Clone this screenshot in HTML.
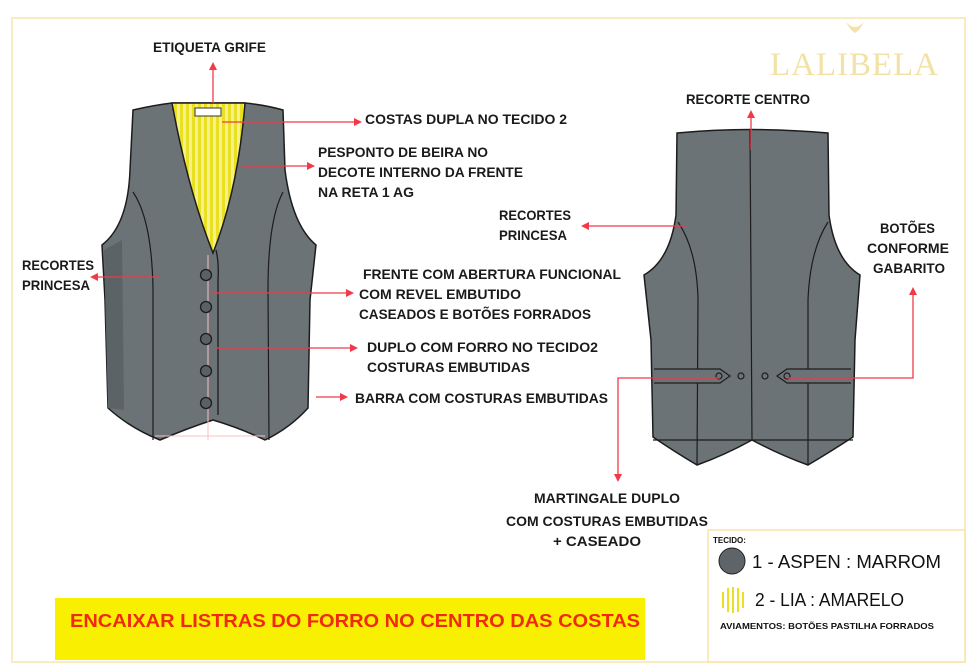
<!DOCTYPE html>
<html><head><meta charset="utf-8"><style>
html,body{margin:0;padding:0;background:#fff;}
svg{display:block;}
.t{font-family:"Liberation Sans",sans-serif;font-size:14px;font-weight:bold;fill:#1a1a1a;}
</style></head><body>
<svg width="977" height="672" viewBox="0 0 977 672" xmlns="http://www.w3.org/2000/svg">
<defs>
<marker id="a" markerWidth="8" markerHeight="8" refX="6" refY="4" orient="auto" markerUnits="userSpaceOnUse"><path d="M0,0 L8,4 L0,8 Z" fill="#f03a4a"/></marker>
<pattern id="st" width="6" height="10" patternUnits="userSpaceOnUse"><rect width="6" height="10" fill="#f6f08a"/><rect width="3" height="10" fill="#e8e020"/></pattern>
</defs>
<rect x="12" y="18" width="953" height="644" fill="none" stroke="#f8ecc0" stroke-width="2"/>
<path d="M846,22 Q855,32 864,22 Q860,30 855,33 Q850,30 846,22Z" fill="#f4e2a8"/>
<text x="770" y="75" font-family="Liberation Serif,serif" font-size="33" fill="#f2e2a6" textLength="168">LALIBELA</text>

<!-- FRONT VEST -->
<path d="M133,110 Q155,105 172,103 L245,103 Q265,105 283,110 L285,170 Q292,225 316,245 L310,300 L308,408 Q290,428 265,440 Q240,428 213,420 Q188,428 160,440 Q130,428 108,408 L105,300 L102,245 Q128,225 130,170 Z" fill="#6c7377" stroke="#1c1c1c" stroke-width="1.5"/>
<path d="M104,250 L122,240 L124,410 L108,408 Z" fill="#5c6367"/>
<path d="M172,103 L245,103 Q238,190 213,253 Q188,190 172,103Z" fill="url(#st)" stroke="#1c1c1c" stroke-width="1.5"/>
<rect x="195" y="108" width="26" height="8" fill="#fff" stroke="#333"/>
<path d="M133,192 Q152,220 153,290 L153,440" fill="none" stroke="#1c1c1c" stroke-width="1.2"/>
<path d="M283,192 Q268,220 268,290 L269,440" fill="none" stroke="#1c1c1c" stroke-width="1.2"/>
<path d="M216,250 Q219,262 218,280 L218,415" fill="none" stroke="#1c1c1c" stroke-width="1.3"/>
<line x1="208" y1="255" x2="208" y2="440" stroke="#f4c0c0" stroke-width="1"/>
<line x1="155" y1="436" x2="265" y2="436" stroke="#f4c0c0" stroke-width="1"/>
<g fill="#5a6064" stroke="#1c1c1c" stroke-width="1.3">
<circle cx="206" cy="275" r="5.5"/><circle cx="206" cy="307" r="5.5"/><circle cx="206" cy="339" r="5.5"/><circle cx="206" cy="371" r="5.5"/><circle cx="206" cy="403" r="5.5"/>
</g>

<!-- BACK VEST -->
<path d="M677,133 Q750,126 828,133 L829,215 Q835,260 860,275 L855,340 L853,437 Q830,452 808,465 Q780,455 752,440 Q725,455 697,465 Q675,452 653,437 L651,340 L644,275 Q670,260 676,215 Z" fill="#6c7377" stroke="#1c1c1c" stroke-width="1.5"/>
<line x1="750" y1="130" x2="752" y2="440" stroke="#1c1c1c" stroke-width="1.2"/>
<path d="M678,222 Q697,250 698,300 L697,465" fill="none" stroke="#1c1c1c" stroke-width="1.2"/>
<path d="M828,222 Q810,250 808,300 L808,465" fill="none" stroke="#1c1c1c" stroke-width="1.2"/>
<line x1="653" y1="440" x2="853" y2="440" stroke="#1c1c1c" stroke-width="1.2"/>
<path d="M654,369 L720,369 L730,376 L720,383 L654,383" fill="#6c7377" stroke="#1c1c1c" stroke-width="1.2"/>
<path d="M851,369 L787,369 L777,376 L787,383 L851,383" fill="#6c7377" stroke="#1c1c1c" stroke-width="1.2"/>
<g fill="none" stroke="#1c1c1c" stroke-width="1.2">
<circle cx="719" cy="376" r="3"/><circle cx="741" cy="376" r="3"/><circle cx="765" cy="376" r="3"/><circle cx="787" cy="376" r="3"/>
</g>

<!-- CONNECTORS -->
<g stroke="#f03a4a" stroke-width="1.3" fill="none" marker-end="url(#a)">
<line x1="213" y1="103" x2="213" y2="64"/>
<line x1="222" y1="122" x2="360" y2="122"/>
<line x1="242" y1="166" x2="313" y2="166"/>
<line x1="160" y1="277" x2="92" y2="277"/>
<line x1="212" y1="293" x2="352" y2="293"/>
<line x1="215" y1="348" x2="356" y2="348"/>
<line x1="316" y1="397" x2="346" y2="397"/>
<line x1="686" y1="226" x2="583" y2="226"/>
<line x1="751" y1="150" x2="751" y2="112"/>
<polyline points="786,378 913,378 913,289"/>
<polyline points="720,378 618,378 618,480"/>
</g>

<!-- LABELS -->
<text class="t" x="153" y="52" textLength="113" lengthAdjust="spacingAndGlyphs">ETIQUETA GRIFE</text>
<text class="t" x="365" y="124" textLength="202" lengthAdjust="spacingAndGlyphs">COSTAS DUPLA NO TECIDO 2</text>
<text class="t" x="318" y="157" textLength="170" lengthAdjust="spacingAndGlyphs">PESPONTO DE BEIRA NO</text>
<text class="t" x="318" y="177" textLength="205" lengthAdjust="spacingAndGlyphs">DECOTE INTERNO DA FRENTE</text>
<text class="t" x="318" y="197" textLength="96" lengthAdjust="spacingAndGlyphs">NA RETA 1 AG</text>
<text class="t" x="22" y="270" textLength="72" lengthAdjust="spacingAndGlyphs">RECORTES</text>
<text class="t" x="22" y="290" textLength="68" lengthAdjust="spacingAndGlyphs">PRINCESA</text>
<text class="t" x="499" y="220" textLength="72" lengthAdjust="spacingAndGlyphs">RECORTES</text>
<text class="t" x="499" y="240" textLength="68" lengthAdjust="spacingAndGlyphs">PRINCESA</text>
<text class="t" x="363" y="279" textLength="258" lengthAdjust="spacingAndGlyphs">FRENTE COM ABERTURA FUNCIONAL</text>
<text class="t" x="359" y="299" textLength="162" lengthAdjust="spacingAndGlyphs">COM REVEL EMBUTIDO</text>
<text class="t" x="359" y="319" textLength="232" lengthAdjust="spacingAndGlyphs">CASEADOS E BOTÕES FORRADOS</text>
<text class="t" x="367" y="352" textLength="231" lengthAdjust="spacingAndGlyphs">DUPLO COM FORRO NO TECIDO2</text>
<text class="t" x="367" y="372" textLength="163" lengthAdjust="spacingAndGlyphs">COSTURAS EMBUTIDAS</text>
<text class="t" x="355" y="403" textLength="253" lengthAdjust="spacingAndGlyphs">BARRA COM COSTURAS EMBUTIDAS</text>
<text class="t" x="686" y="104" textLength="124" lengthAdjust="spacingAndGlyphs">RECORTE CENTRO</text>
<text class="t" x="880" y="233" textLength="55" lengthAdjust="spacingAndGlyphs">BOTÕES</text>
<text class="t" x="867" y="253" textLength="82" lengthAdjust="spacingAndGlyphs">CONFORME</text>
<text class="t" x="873" y="273" textLength="72" lengthAdjust="spacingAndGlyphs">GABARITO</text>
<text class="t" x="534" y="503" textLength="146" lengthAdjust="spacingAndGlyphs">MARTINGALE DUPLO</text>
<text class="t" x="506" y="526" textLength="202" lengthAdjust="spacingAndGlyphs">COM COSTURAS EMBUTIDAS</text>
<text class="t" x="553" y="546" textLength="88" lengthAdjust="spacingAndGlyphs">+  CASEADO</text>

<!-- BANNER -->
<rect x="55" y="598" width="590" height="62" fill="#f8f000"/>
<text x="70" y="627" font-family="Liberation Sans,sans-serif" font-weight="bold" font-size="18" fill="#f02a10" textLength="570" lengthAdjust="spacingAndGlyphs">ENCAIXAR LISTRAS DO FORRO NO CENTRO DAS COSTAS</text>

<!-- LEGEND -->
<rect x="708" y="530" width="257" height="132" fill="#fff" stroke="#f8e4a8" stroke-width="1.5"/>
<text x="713" y="543" font-family="Liberation Sans,sans-serif" font-size="8" font-weight="bold" fill="#111">TECIDO:</text>
<circle cx="732" cy="561" r="13" fill="#5f6468" stroke="#222" stroke-width="1"/>
<text x="752" y="568" font-family="Liberation Sans,sans-serif" font-size="18" fill="#111" textLength="189" lengthAdjust="spacingAndGlyphs">1 - ASPEN : MARROM</text>
<g stroke="#e8e020" stroke-width="2"><line x1="723" y1="592" x2="723" y2="608"/><line x1="728" y1="588" x2="728" y2="612"/><line x1="733" y1="587" x2="733" y2="613"/><line x1="738" y1="588" x2="738" y2="612"/><line x1="743" y1="592" x2="743" y2="608"/></g>
<text x="755" y="606" font-family="Liberation Sans,sans-serif" font-size="18" fill="#111" textLength="149" lengthAdjust="spacingAndGlyphs">2 - LIA : AMARELO</text>
<text x="720" y="629" font-family="Liberation Sans,sans-serif" font-size="8.5" font-weight="bold" fill="#111" textLength="214" lengthAdjust="spacingAndGlyphs">AVIAMENTOS: BOTÕES PASTILHA FORRADOS</text>
</svg>
</body></html>
